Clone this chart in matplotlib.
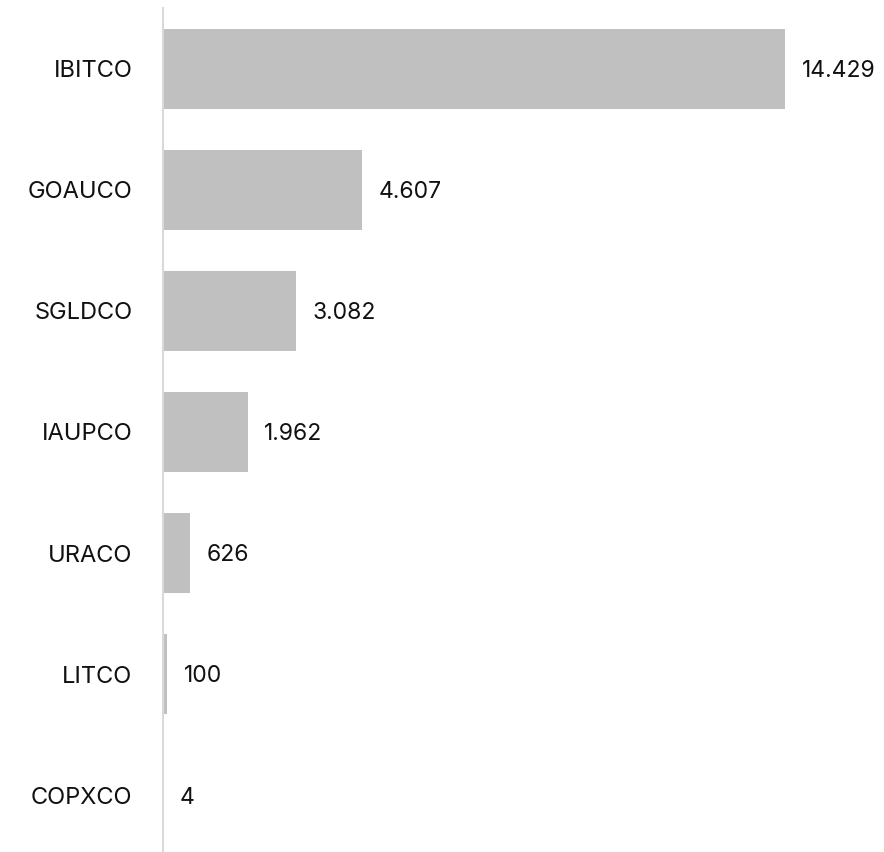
import matplotlib
matplotlib.use("Agg")
import matplotlib.pyplot as plt

plt.rcParams['font.family'] = ['Inter', 'DejaVu Sans']

categories = ["IBITCO", "GOAUCO", "SGLDCO", "IAUPCO", "URACO", "LITCO", "COPXCO"]
values = [14429, 4607, 3082, 1962, 626, 100, 4]
value_labels = ["14.429", "4.607", "3.082", "1.962", "626", "100", "4"]

fig = plt.figure(figsize=(8.84, 8.52), dpi=100)
ax = fig.add_axes([163/884, -4/852, 1 - 163/884, 848/852])

y = list(range(len(categories)))
ax.barh(y, values, height=0.66, color="#c0c0c0", edgecolor="none")
ax.set_ylim(len(categories) - 0.5, -0.5)
ax.set_xlim(0, 14429 * (884 - 163) / 622)

for yi, v, lab in zip(y, values, value_labels):
    ax.annotate(lab, xy=(v, yi), xytext=(12, -1.5), textcoords="offset points",
                va="center", ha="left", fontsize=16.5, color="#111111")

ax.set_yticks(y)
ax.set_yticklabels(categories, fontsize=17, color="#111111")
ax.tick_params(axis="y", length=0, pad=22)
ax.set_xticks([])
for s in ["top", "right", "bottom"]:
    ax.spines[s].set_visible(False)
ax.spines["left"].set_color("#d9d9d9")
ax.spines["left"].set_linewidth(1.5)

fig.savefig("out.png", dpi=100)
